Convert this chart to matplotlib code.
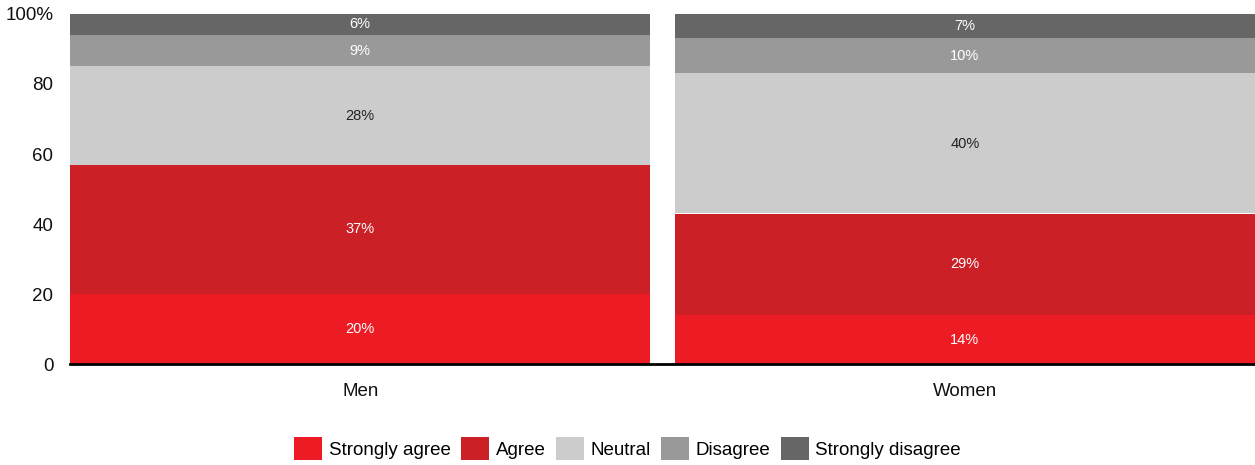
import matplotlib
matplotlib.use("Agg")

import matplotlib.pyplot as plt
import numpy as np

plt.rcParams["font.family"] = ["Liberation Sans", "DejaVu Sans"]

# ---------- Data ----------
groups = ["Men", "Women"]
responses = ["Strongly agree", "Agree", "Neutral", "Disagree", "Strongly disagree"]
strongly_agree = [20, 14]
agree = [37, 29]
neutral = [28, 40]
disagree = [9, 10]
strongly_disagree = [6, 7]

series = [strongly_agree, agree, neutral, disagree, strongly_disagree]
colors = ["#ed1c24", "#cc2027", "#cccccc", "#999999", "#666666"]
label_colors = ["white", "white", "#222222", "white", "white"]

# ---------- Figure ----------
fig = plt.figure(figsize=(12.55, 4.65), dpi=100)
ax = fig.add_axes([70 / 1255, 1 - 364 / 465, 1 - 70 / 1255, 350 / 465])

x = np.arange(len(groups))
bottom = np.zeros(len(groups))
for name, vals, col, lcol in zip(responses, series, colors, label_colors):
    vals = np.array(vals, dtype=float)
    ax.bar(x, vals, width=0.96, bottom=bottom, color=col, label=name, linewidth=0)
    for xi, b, v in zip(x, bottom, vals):
        ax.text(xi, b + v / 2, f"{v:.0f}%", ha="center", va="center",
                fontsize=10.5, color=lcol)
    bottom += vals

ax.set_xlim(-0.48, 1.48)
ax.set_ylim(0, 100)
ax.set_yticks([0, 20, 40, 60, 80, 100])
ax.set_yticklabels(["0", "20", "40", "60", "80", "100%"])
ax.set_xticks(x)
ax.set_xticklabels(groups)
ax.tick_params(axis="both", length=0, labelsize=13.5, colors="#111111")
ax.tick_params(axis="x", pad=14)
ax.tick_params(axis="y", pad=12)

for side in ["top", "right", "left"]:
    ax.spines[side].set_visible(False)
ax.spines["bottom"].set_linewidth(2)
ax.spines["bottom"].set_color("black")

fig.legend(loc="lower center", bbox_to_anchor=(0.5, -0.025), ncol=5, frameon=False,
           fontsize=13.5, handlelength=1.5, handleheight=1.5, handletextpad=0.35,
           columnspacing=0.55)

fig.savefig("out.png", dpi=100)
